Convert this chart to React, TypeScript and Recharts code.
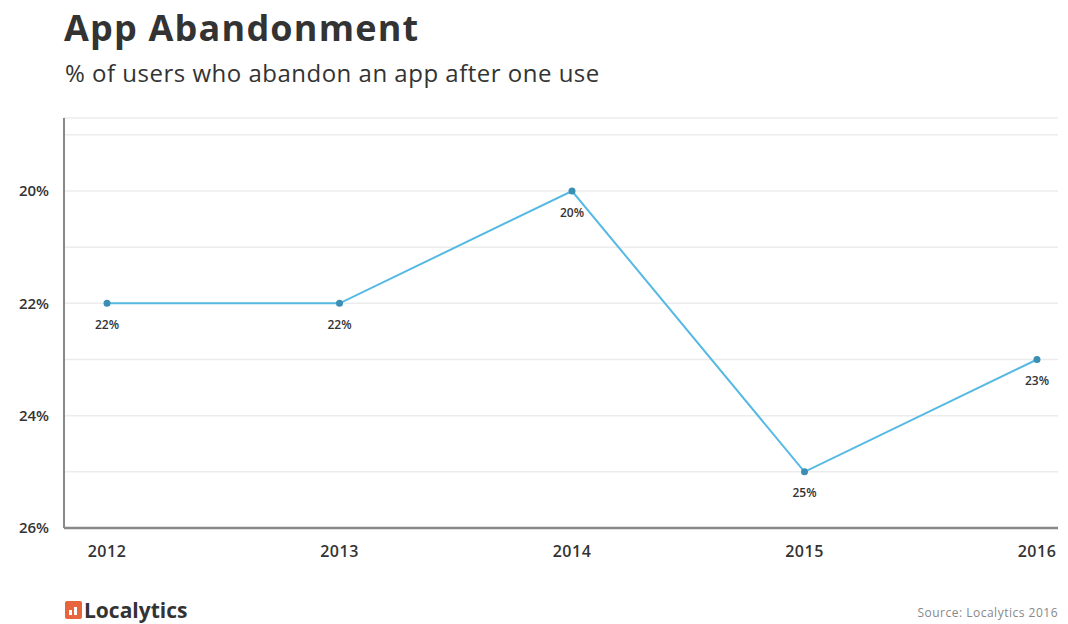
import { LineChart, Line, XAxis, YAxis, CartesianGrid, LabelList } from "recharts";

const years = ["2012", "2013", "2014", "2015", "2016"];
const abandonPct = [22, 22, 20, 25, 23];
const yTicks = [19, 20, 21, 22, 23, 24, 25, 26];

const data = years.map((year, i) => ({ year, pct: abandonPct[i] }));

const FONT = "'Open Sans', sans-serif";

export default function App() {
  return (
    <div
      style={{
        position: "absolute",
        left: 0,
        top: 0,
        width: 1068,
        height: 624,
        background: "#fff",
        fontFamily: FONT,
        overflow: "hidden",
      }}
    >
      <div style={{ position: "absolute", left: 64, top: 3, fontSize: 36, fontWeight: 700, color: "#333", letterSpacing: 1.2 }}>
        App Abandonment
      </div>
      <div style={{ position: "absolute", left: 65, top: 56, fontSize: 24, color: "#333", letterSpacing: 0.5 }}>
        % of users who abandon an app after one use
      </div>

      <div style={{ position: "absolute", left: 0, top: 0 }}>
        <LineChart width={1068} height={600} data={data} margin={{ top: 118, right: 10, left: 0, bottom: 40 }}>
          <CartesianGrid vertical={false} stroke="#ececec" strokeWidth={1.5} />
          <XAxis
            dataKey="year"
            height={32}
            padding={{ left: 43, right: 21 }}
            axisLine={{ stroke: "#888", strokeWidth: 2.5 }}
            tickLine={false}
            tickMargin={12}
            tick={{ fontSize: 16, fontWeight: 600, fill: "#333", fontFamily: FONT, letterSpacing: 0.5 }}
          />
          <YAxis
            type="number"
            reversed
            width={64}
            domain={[18.7, 26]}
            ticks={yTicks}
            interval={0}
            allowDataOverflow
            tickFormatter={(v: number) => (v % 2 === 0 ? `${v}%` : "")}
            axisLine={{ stroke: "#888", strokeWidth: 2 }}
            tickLine={false}
            tickMargin={9}
            tick={{ fontSize: 15, fontWeight: 600, fill: "#333", fontFamily: FONT }}
          />
          <Line
            type="linear"
            dataKey="pct"
            stroke="#56b9e4"
            strokeWidth={2}
            dot={{ r: 2.5, fill: "#3a8fb5", stroke: "#3a8fb5" }}
            isAnimationActive={false}
          >
            <LabelList
              dataKey="pct"
              position="bottom"
              offset={17}
              formatter={(v: number) => `${v}%`}
              style={{ fontSize: 12, fontWeight: 600, fill: "#333", fontFamily: FONT }}
            />
          </Line>
        </LineChart>
      </div>

      {/* Footer */}
      <div style={{ position: "absolute", left: 65, top: 599, display: "flex", alignItems: "center" }}>
        <div
          style={{
            width: 17,
            height: 18,
            background: "#e8643c",
            borderRadius: 2,
            marginRight: 2,
            position: "relative",
          }}
        >
          <div style={{ position: "absolute", left: 4, top: 9, width: 3, height: 5, background: "#fff" }} />
          <div style={{ position: "absolute", left: 9, top: 6, width: 3, height: 8, background: "#fff" }} />
        </div>
        <span style={{ fontSize: 21, fontWeight: 700, color: "#333", lineHeight: "22px" }}>Localytics</span>
      </div>
      <div style={{ position: "absolute", right: 10, top: 604, fontSize: 12, color: "#888", letterSpacing: 0.5 }}>
        Source: Localytics 2016
      </div>
    </div>
  );
}
